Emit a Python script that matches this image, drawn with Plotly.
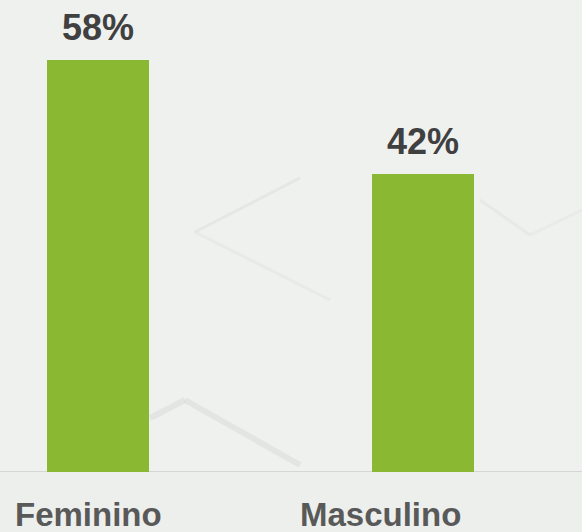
import plotly.graph_objects as go

categories = ["Feminino", "Masculino"]
values = [58, 42]
value_labels = ["58%", "42%"]
label_shift = [-10, -43]  # category labels sit left of bar centres

bar_color = "#8ab833"

fig = go.Figure()
fig.add_trace(go.Bar(
    x=list(range(len(categories))),
    y=values,
    width=0.314,
    marker=dict(color=bar_color, line=dict(width=0)),
    hoverinfo="skip",
))

annotations = []
for i, (v, t) in enumerate(zip(values, value_labels)):
    annotations.append(dict(
        x=i, y=v, xref="x", yref="y", text=f"<b>{t}</b>", showarrow=False,
        yanchor="bottom", yshift=10,
        font=dict(family="Liberation Sans, Arial", size=36, color="#404040"),
    ))
for i, c in enumerate(categories):
    annotations.append(dict(
        x=i, y=0, xref="x", yref="y", text=f"<b>{c}</b>", showarrow=False,
        yanchor="top", yshift=-22, xshift=label_shift[i],
        font=dict(family="Liberation Sans, Arial", size=33, color="#595959"),
    ))

W, H = 582, 532


def px_line(x0, y0, x1, y1, color, width):
    return dict(type="line", xref="paper", yref="paper",
                x0=x0 / W, x1=x1 / W, y0=1 - y0 / (H - 60), y1=1 - y1 / (H - 60),
                line=dict(color=color, width=width), layer="below")


shapes = [
    # faint decorative background facets
    px_line(195, 232, 300, 178, "rgba(220,222,220,0.55)", 3),
    px_line(195, 232, 330, 300, "rgba(225,227,225,0.5)", 3),
    px_line(480, 200, 530, 235, "rgba(224,226,224,0.5)", 3),
    px_line(530, 235, 582, 210, "rgba(226,228,226,0.45)", 3),
    px_line(150, 418, 185, 400, "rgba(212,214,212,0.45)", 6),
    px_line(185, 400, 300, 465, "rgba(212,214,212,0.45)", 6),
    # baseline
    dict(type="line", xref="paper", yref="y", x0=0, x1=1, y0=0, y1=0,
         line=dict(color="#d6d6d6", width=2), layer="below"),
]

fig.update_layout(
    width=W, height=H,
    margin=dict(l=0, r=0, t=0, b=60),
    paper_bgcolor="#edefed",
    plot_bgcolor="#eff1ef",
    showlegend=False,
    bargap=0,
    xaxis=dict(range=[-0.3015, 1.489], showticklabels=False, showgrid=False,
               zeroline=False, showline=False, ticks="", fixedrange=True),
    yaxis=dict(range=[0, 66.5], showticklabels=False, showgrid=False,
               zeroline=False, showline=False, ticks="", fixedrange=True),
    annotations=annotations,
    shapes=shapes,
)

fig.write_html("out.html", config={"displayModeBar": False},
               post_script="document.body.style.margin='0';document.body.style.overflow='hidden';")
